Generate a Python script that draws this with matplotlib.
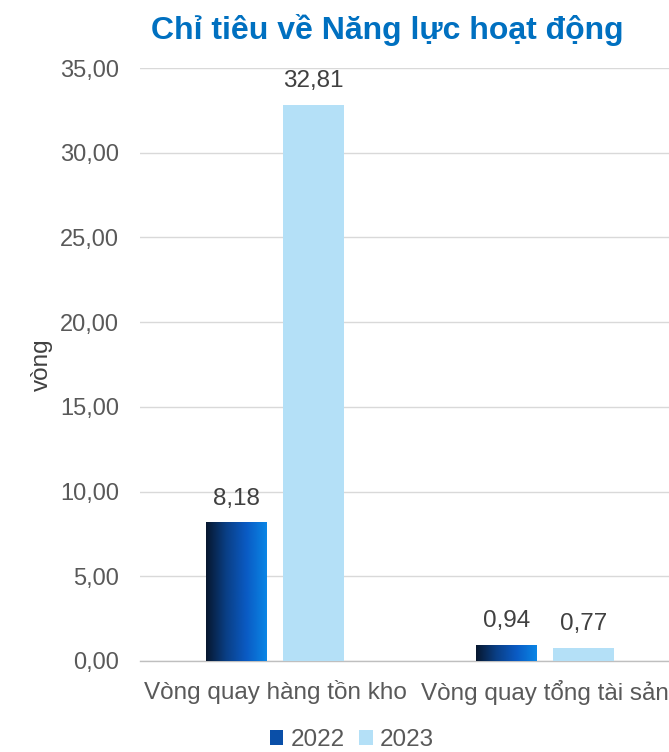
import numpy as np
import matplotlib.pyplot as plt
from matplotlib.colors import LinearSegmentedColormap
from matplotlib.patches import Patch

categories = ["Vòng quay hàng tồn kho", "Vòng quay tổng tài sản"]
years = ["2022", "2023"]
v2022 = [8.18, 0.94]
v2023 = [32.81, 0.77]
labels2022 = ["8,18", "0,94"]
labels2023 = ["32,81", "0,77"]
yticks = [0, 5, 10, 15, 20, 25, 30, 35]

plt.rcParams['font.family'] = ['Liberation Sans', 'DejaVu Sans']

fig = plt.figure(figsize=(6.69, 7.52), dpi=100)
ax = fig.add_axes([140/669, 1 - 661/752, (669-140)/669, (661-68)/752])

x = np.arange(len(categories))
w = 0.225
off = 0.142

grad = LinearSegmentedColormap.from_list("g", ["#07172e", "#0a3f86", "#0a5bc4", "#0a86e6"])
b1 = ax.bar(x - off, v2022, w, color="none", zorder=3)
b2 = ax.bar(x + off, v2023, w, color="#b4e0f7", zorder=3)

# gradient fill for 2022 bars
g = np.linspace(0, 1, 256).reshape(1, -1)
for r in b1:
    bx, by = r.get_x(), r.get_y()
    bw, bh = r.get_width(), r.get_height()
    im = ax.imshow(g, cmap=grad, aspect="auto", extent=[bx, bx + bw, by, by + bh], zorder=3)
    im.set_clip_path(r)

for r, t in zip(b1, labels2022):
    ax.text(r.get_x() + r.get_width()/2, r.get_height() + 0.75, t, ha="center", va="bottom",
            fontsize=17.5, color="#404040")
for r, t in zip(b2, labels2023):
    ax.text(r.get_x() + r.get_width()/2, r.get_height() + 0.75, t, ha="center", va="bottom",
            fontsize=17.5, color="#404040")

ax.set_xlim(-0.5, 1.46)
ax.set_ylim(0, 35)
ax.set_yticks(yticks)
ax.set_yticklabels([f"{v:.2f}".replace(".", ",") for v in yticks], fontsize=17, color="#595959")
ax.set_xticks(x)
ax.set_xticklabels(categories, fontsize=17.5, color="#595959")
ax.tick_params(axis="y", length=0, pad=15)
ax.tick_params(axis="x", length=0, pad=14)
ax.yaxis.grid(True, color="#d9d9d9", linewidth=1)
ax.set_axisbelow(True)
for s in ["top", "right", "left"]:
    ax.spines[s].set_visible(False)
ax.spines["bottom"].set_color("#bfbfbf")
ax.spines["bottom"].set_linewidth(1)

ax.set_ylabel("vòng", fontsize=17.5, color="#404040")
ax.yaxis.set_label_coords((53 - 140) / 529, 0.5)

fig.text(387/669, 1 - 30/752, "Chỉ tiêu về Năng lực hoạt động", ha="center", va="center",
         fontsize=23, fontweight="bold", color="#0070c0")

handles = [Patch(facecolor="#0a4fa8", edgecolor="none"), Patch(facecolor="#b4e0f7", edgecolor="none")]
fig.legend(handles, years, loc="center", bbox_to_anchor=(352/669, 1 - 740/752), ncol=2, frameon=False,
           fontsize=17.5, handlelength=0.55, handleheight=0.55, handletextpad=0.3, columnspacing=0.6,
           labelcolor="#595959")

fig.savefig("out.png", dpi=100)
